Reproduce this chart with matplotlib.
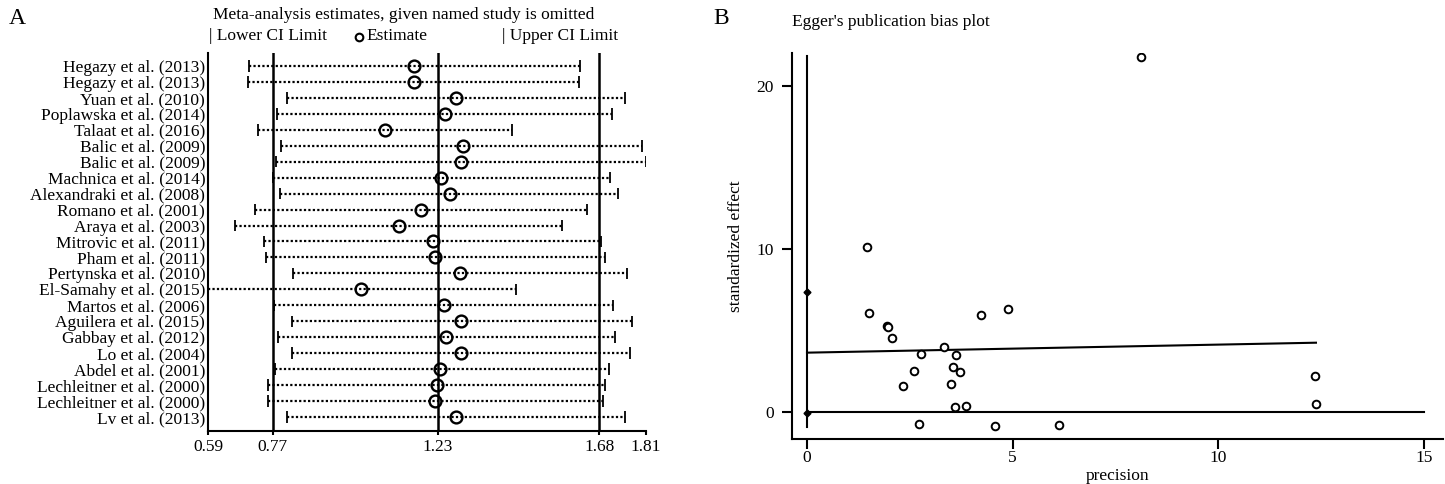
import matplotlib
matplotlib.use("Agg")
import matplotlib.pyplot as plt
from matplotlib.lines import Line2D

plt.rcParams['font.family'] = ['Liberation Serif', 'DejaVu Serif']

# ---------------- Panel A data ----------------
studies = ["Hegazy et al. (2013)", "Hegazy et al. (2013)", "Yuan et al. (2010)",
           "Poplawska et al. (2014)", "Talaat et al. (2016)", "Balic et al. (2009)",
           "Balic et al. (2009)", "Machnica et al. (2014)", "Alexandraki et al. (2008)",
           "Romano et al. (2001)", "Araya et al. (2003)", "Mitrovic et al. (2011)",
           "Pham et al. (2011)", "Pertynska et al. (2010)", "El-Samahy et al. (2015)",
           "Martos et al. (2006)", "Aguilera et al. (2015)", "Gabbay et al. (2012)",
           "Lo et al. (2004)", "Abdel et al. (2001)", "Lechleitner et al. (2000)",
           "Lechleitner et al. (2000)", "Lv et al. (2013)"]
estimate = [1.165, 1.163, 1.280, 1.249, 1.082, 1.299, 1.296, 1.238, 1.263, 1.182,
            1.122, 1.217, 1.222, 1.292, 1.016, 1.246, 1.295, 1.253, 1.296, 1.237,
            1.228, 1.223, 1.280]
lower_ci = [0.705, 0.702, 0.811, 0.782, 0.730, 0.794, 0.779, 0.770, 0.791, 0.720,
            0.666, 0.747, 0.751, 0.826, 0.590, 0.775, 0.823, 0.784, 0.825, 0.778,
            0.758, 0.756, 0.810]
upper_ci = [1.625, 1.622, 1.751, 1.716, 1.436, 1.799, 1.810, 1.710, 1.733, 1.645,
            1.575, 1.686, 1.697, 1.758, 1.449, 1.719, 1.770, 1.725, 1.765, 1.706,
            1.697, 1.689, 1.751]
ref_lines = [0.77, 1.23, 1.68]
a_ticks = [0.59, 0.77, 1.23, 1.68, 1.81]
a_ticklabels = ["0.59", "0.77", "1.23", "1.68", "1.81"]

# ---------------- Panel B data ----------------
precision = [1.47, 1.52, 1.95, 1.97, 2.06, 2.77, 3.34, 3.63, 2.60, 3.54, 3.72, 2.33,
             3.51, 3.60, 3.86, 2.73, 4.58, 6.14, 4.23, 4.88, 12.35, 12.37, 8.12]
std_effect = [10.12, 6.08, 5.28, 5.20, 4.55, 3.58, 3.98, 3.52, 2.50, 2.78, 2.48, 1.61,
              1.75, 0.28, 0.35, -0.71, -0.87, -0.77, 5.96, 6.34, 2.22, 0.47, 21.73]
fit_x = [0.0, 12.38]
fit_y = [3.64, 4.25]
ci_x = [0.0, 0.0]
ci_y = [-0.06, 7.38]
b_xticks = [0, 5, 10, 15]
b_yticks = [0, 10, 20]

W, H = 1445, 484
fig = plt.figure(figsize=(W / 100, H / 100), dpi=100)

# ---------------- Panel A ----------------
axA = fig.add_axes([208 / W, 1 - 431 / H, (646 - 208) / W, (431 - 53) / H])
n = len(studies)
ypos = [n - i for i in range(n)]
axA.set_xlim(0.59, 1.81)
axA.set_ylim(0.122, n + 0.815)

for xv in ref_lines:
    axA.axvline(xv, color='black', lw=1.8, zorder=1)

axA.hlines(ypos, lower_ci, upper_ci, colors='black', linestyles=(0, (1, 1)), lw=1.6, zorder=2)
axA.vlines(lower_ci, [y - 0.36 for y in ypos], [y + 0.36 for y in ypos], colors='black', lw=1.3, zorder=2)
axA.vlines(upper_ci, [y - 0.36 for y in ypos], [y + 0.36 for y in ypos], colors='black', lw=1.3, zorder=2)
axA.plot(estimate, ypos, linestyle='none', marker='o', markersize=8.5,
         markerfacecolor='none', markeredgecolor='black', markeredgewidth=1.7, zorder=3)

axA.set_yticks(ypos)
axA.set_yticklabels(studies, fontsize=12.5)
axA.tick_params(axis='y', length=0, pad=2)
axA.set_xticks(a_ticks)
axA.set_xticklabels(a_ticklabels, fontsize=12.5)
axA.tick_params(axis='x', length=3, width=1.5, pad=3)
for s in ['top', 'right']:
    axA.spines[s].set_visible(False)
for s in ['left', 'bottom']:
    axA.spines[s].set_linewidth(1.5)

fig.text(9 / W, 1 - 18 / H, "A", fontsize=17, ha='left', va='center')
fig.text(404 / W, 1 - 15 / H, "Meta-analysis estimates, given named study is omitted",
         fontsize=12.5, ha='center', va='center')
fig.text(209 / W, 1 - 36 / H, "| Lower CI Limit", fontsize=12.5, ha='left', va='center')
fig.add_artist(Line2D([359 / W], [1 - 37 / H], marker='o', markersize=5.5, markerfacecolor='none',
                      markeredgecolor='black', markeredgewidth=1.5, transform=fig.transFigure))
fig.text(366 / W, 1 - 36 / H, "Estimate", fontsize=12.5, ha='left', va='center')
fig.text(502 / W, 1 - 36 / H, "| Upper CI Limit", fontsize=12.5, ha='left', va='center')

# ---------------- Panel B ----------------
axB = fig.add_axes([792 / W, 1 - 439 / H, (1443 - 792) / W, (439 - 53) / H])
axB.set_xlim(-0.365, 15.47)
axB.set_ylim(-1.65, 22.0)
axB.plot([0, 0], [-0.93, 21.8], color='black', lw=1.5, zorder=1)
axB.axhline(0, xmin=(0 + 0.365) / 15.835, xmax=(15 + 0.365) / 15.835, color='black', lw=1.5, zorder=1)
axB.plot(fit_x, fit_y, color='black', lw=1.5, zorder=1)
axB.plot(ci_x, ci_y, linestyle='none', marker='D', markersize=3.5, color='black', zorder=3)
axB.plot(precision, std_effect, linestyle='none', marker='o', markersize=5.5,
         markerfacecolor='white', markeredgecolor='black', markeredgewidth=1.4, zorder=3)
axB.set_xticks(b_xticks)
axB.set_yticks(b_yticks)
axB.tick_params(axis='both', length=7, width=1.5, labelsize=12.5)
axB.tick_params(axis='y', pad=6)
axB.tick_params(axis='x', pad=1)
for s in ['top', 'right']:
    axB.spines[s].set_visible(False)
for s in ['left', 'bottom']:
    axB.spines[s].set_linewidth(1.5)
axB.set_xlabel("precision", fontsize=12.5, va='center')
axB.xaxis.set_label_coords(0.5, (439 - 476) / (439 - 53))
axB.set_ylabel("standardized effect", fontsize=12.5, va='center')
axB.yaxis.set_label_coords((736 - 792) / (1443 - 792), 0.5)

fig.text(713 / W, 1 - 18 / H, "B", fontsize=17, ha='left', va='center')
fig.text(792 / W, 1 - 22 / H, "Egger's publication bias plot", fontsize=12.5, ha='left', va='center')

fig.savefig("out.png", dpi=100)
